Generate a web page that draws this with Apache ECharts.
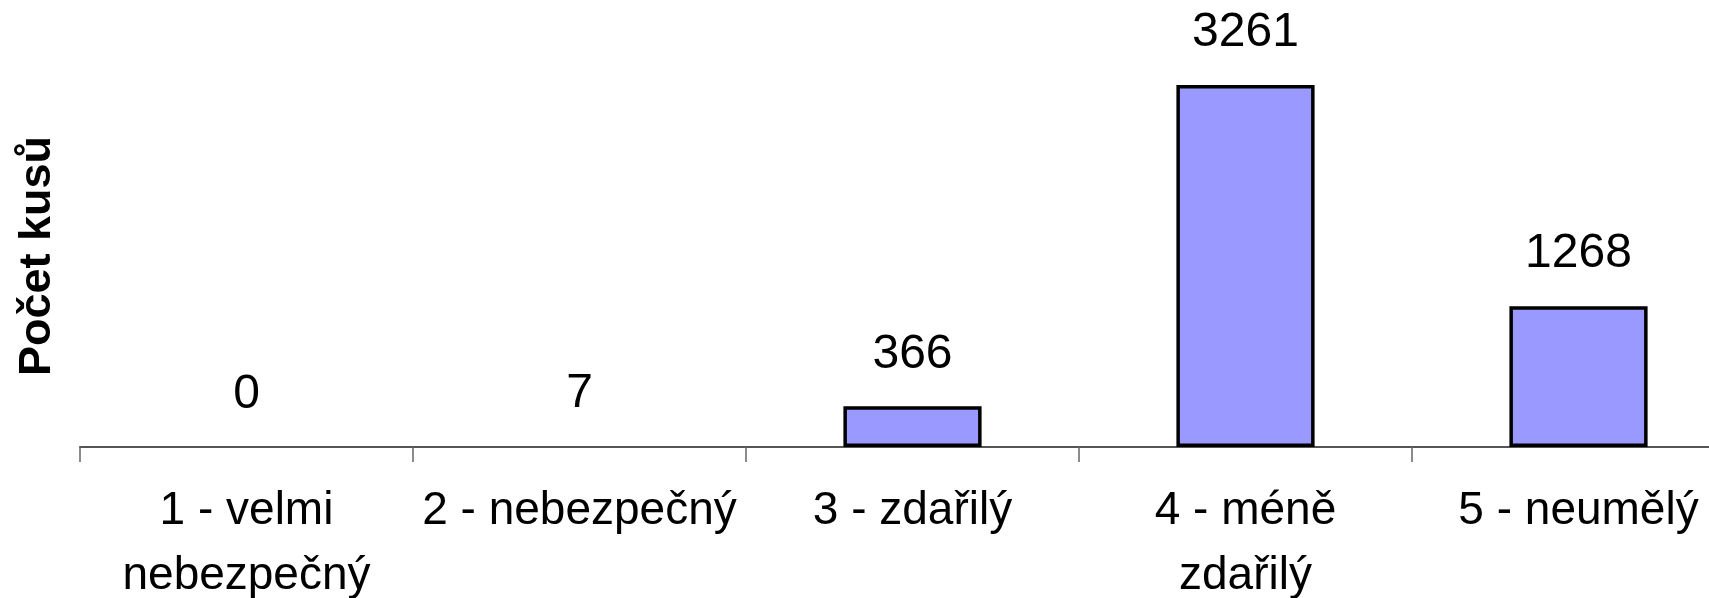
<!DOCTYPE html>
<html>
<head>
<meta charset="utf-8">
<script src="https://cdn.jsdelivr.net/npm/echarts@6/dist/echarts.min.js"></script>
<style>
  html, body { margin: 0; padding: 0; background: #fff; }
  .bar { width: 1709px; height: 598px; }
</style>
</head>
<body>
<div class="bar"></div>
<script>
// data
var categories = ["1 - velmi\nnebezpečný", "2 - nebezpečný", "3 - zdařilý", "4 - méně\nzdařilý", "5 - neumělý"];
var counts = [0, 7, 366, 3261, 1268];
var axisName = "Počet kusů";

// tiny values are not visible as bars in the original
var barData = counts.map(function (v) {
  return v < 10 ? { value: v, itemStyle: { borderWidth: 0, color: "transparent" } } : v;
});

var myChart = echarts.init(document.querySelector(".bar"));
var option = {
  animation: false,
  textStyle: { fontFamily: "Liberation Sans, Arial, sans-serif" },
  grid: { left: 80, right: -36, top: 65, bottom: 151, outerBoundsMode: "none", containLabel: false },
  xAxis: {
    type: "category",
    data: categories,
    axisLine: { lineStyle: { color: "#555", width: 2 } },
    axisTick: { show: true, interval: 0, alignWithLabel: false, length: 15, lineStyle: { color: "#666", width: 1.5 } },
    axisLabel: {
      interval: 0,
      color: "#000",
      fontSize: 46,
      lineHeight: 65,
      margin: 32
    }
  },
  yAxis: {
    type: "value",
    min: 0,
    max: 3440,
    name: axisName,
    nameLocation: "middle",
    nameGap: 20,
    nameTextStyle: { color: "#000", fontSize: 45, fontWeight: "bold" },
    axisLine: { show: false },
    axisTick: { show: false },
    axisLabel: { show: false },
    splitLine: { show: false }
  },
  series: [
    {
      type: "bar",
      data: barData,
      barWidth: "41.5%",
      itemStyle: { color: "#9999ff", borderColor: "#000", borderWidth: 3.5 },
      label: {
        show: true,
        position: "top",
        distance: 28,
        color: "#000",
        fontSize: 48
      }
    }
  ]
};
myChart.setOption(option);
</script>
</body>
</html>
